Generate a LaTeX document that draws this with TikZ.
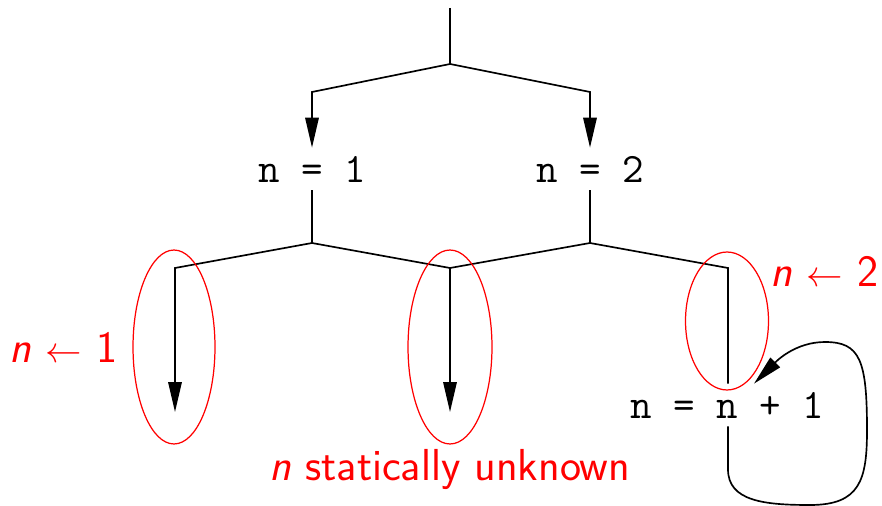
\documentclass[tikz,border=0pt]{standalone}
\usepackage{xcolor}
\usepackage{tikz}
\usetikzlibrary{shapes.geometric, arrows.meta, positioning, calc}

\newcommand{\assign}{{\fontsize{20.5}{24}\selectfont$\leftarrow$}}

\begin{document}
\begin{tikzpicture}[
    x=0.02cm, y=-0.02cm,
    stmt/.style={inner sep=0pt, minimum height=0.84cm, font=\fontsize{23.8}{28}\selectfont\ttfamily},
    flow/.style={line width=0.95pt},
    arrow/.style={-{Triangle[length=0.6cm, width=0.27cm]}, line width=0.95pt},
    region/.style={draw=red, ellipse, line width=0.7pt, inner sep=0pt},
    note/.style={text=red, inner sep=1pt, font=\fontsize{25.5}{30}\selectfont\sffamily}
]
    \useasboundingbox (0,0) rectangle (882,506);

    % branching points
    \coordinate (entry) at (450,8);
    \coordinate (split) at (450,64);
    \coordinate (leftbr) at (312,92);
    \coordinate (rightbr) at (590,92);

    \node[stmt] (n1) at (312,169) {n = 1};
    \node[stmt] (n2) at (590,169) {n = 2};
    \node[stmt] (inc) at (727,405) {n = n + 1};

    \coordinate (join1) at (312,243);
    \coordinate (join2) at (590,243);
    \coordinate (outA) at (175,268);
    \coordinate (outB) at (450,268);
    \coordinate (outC) at (728,268);
    \coordinate (endA) at (175,412);
    \coordinate (endB) at (450,412);

    \draw[flow] (entry) -- (split);
    \draw[arrow] (split) -- (leftbr) -- (n1);
    \draw[arrow] (split) -- (rightbr) -- (n2);

    \draw[flow] (n1) -- (join1);
    \draw[flow] (n2) -- (join2);
    \draw[arrow] (join1) -- (outA) -- (endA);
    \draw[flow] (join1) -- (outB);
    \draw[arrow] (join2) -- (outB) -- (endB);
    \draw[flow] (join2) -- (outC) -- (outC |- inc.north);

    % loop back into the increment
    \draw[arrow] (outC |- inc.south) -- ++(0,43)
        .. controls +(0,32) and +(-45,0) .. (810,505)
        .. controls +(50,0) and +(0,50) .. (867,430)
        .. controls +(0,-70) and +(35,0) .. (825,342)
        .. controls +(-30,0) and +(22,-22) .. ([xshift=0.54cm]inc.north);

    % value regions
    \node[region, minimum width=1.64cm, minimum height=3.88cm] (regA) at (174,347) {};
    \node[region, minimum width=1.68cm, minimum height=3.88cm] (regB) at (450,347) {};
    \node[region, minimum width=1.66cm, minimum height=2.76cm] (regC) at (727,321) {};

    \node[note, left=0.26cm of regA] (labA) {\textit{n} \assign{} 1};
    \node[note, right=0.24cm of regC.north east] (labC) {\textit{n} \assign{} 2};
    \node[note] (labB) at (450,469) {\textit{n} statically unknown};
\end{tikzpicture}
\end{document}
